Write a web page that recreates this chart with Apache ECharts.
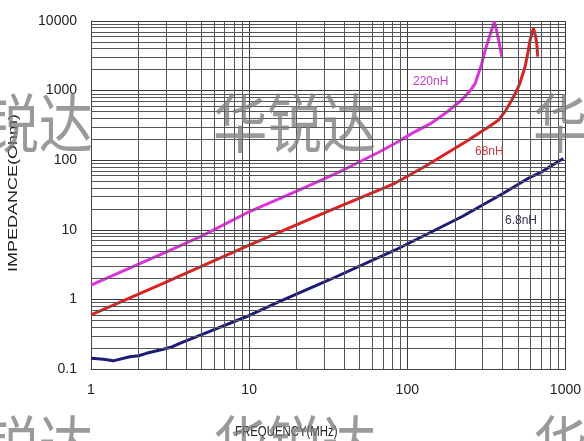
<!DOCTYPE html>
<html>
<head>
<meta charset="utf-8">
<script src="https://cdn.jsdelivr.net/npm/echarts@6/dist/echarts.min.js"></script>
<style>html,body{margin:0;padding:0;background:#fff;}#c{width:584px;height:441px;}</style>
</head>
<body>
<div id="c"></div>
<script>
// ---- data ----
var xTickLabels = [1, 10, 100, 1000];
var yTickLabels = [0.1, 1, 10, 100, 1000, 10000];

var freq220 = [1, 2, 2.86, 5, 9.57, 20, 32, 38.7, 50, 66, 84, 107, 140, 174, 221, 250, 269, 295, 311, 335, 355, 366, 378, 396];
var z220    = [1.61, 3.2, 4.6, 8.1, 17.3, 36, 58, 71, 95, 130, 175, 243, 335, 472, 733, 1000, 1273, 2400, 3830, 6500, 9800, 7500, 5330, 3070];

var freq68 = [1, 2.86, 10, 32, 60, 84, 130, 192, 240, 283, 330, 378, 420, 458, 490, 515, 556, 580, 598, 628, 648, 659, 668];
var z68    = [0.597, 1.70, 6.0, 18.7, 34, 47, 82, 140, 190, 243, 305, 378, 520, 733, 980, 1273, 2200, 3600, 5330, 7850, 6000, 4680, 3070];

var freq6_8 = [1, 1.2, 1.38, 1.76, 2.0, 2.24, 2.86, 3.2, 3.64, 5.9, 9.57, 15.5, 32, 84, 221, 400, 583, 650, 708, 800, 970];
var z6_8    = [0.143, 0.138, 0.131, 0.150, 0.155, 0.168, 0.192, 0.205, 0.234, 0.363, 0.563, 0.927, 1.9, 5.13, 15.4, 33, 55, 62, 68, 81, 106];

var seriesNames = ['220nH', '68nH', '6.8nH'];
var watermarkText = '华锐达';

// minor grid values (2..9 per decade)
function minorVals(lo, hi) {
  var out = [];
  for (var d = lo; d < hi; d *= 10) {
    for (var k = 2; k <= 9; k++) out.push(+(d * k).toPrecision(3));
  }
  return out;
}
var xMinor = minorVals(1, 1000);
var yMinor = minorVals(0.1, 10000);

function zip(a, b) { return a.map(function (v, i) { return [v, b[i]]; }); }

var FONT = '"Liberation Sans", Arial, sans-serif';
var chart = echarts.init(document.getElementById('c'), null, {renderer: 'canvas'});

var markData = [];
xMinor.forEach(function (v) { markData.push({xAxis: v}); });
yMinor.forEach(function (v) { markData.push({yAxis: v}); });

var wmStyle = {fontSize: 64, fontFamily: '"Noto Sans CJK SC", sans-serif', fill: 'rgba(125,125,125,0.78)'};
var wmX = [-70, 213, 533];
var wmY = [123, 445];
var graphics = [];
wmY.forEach(function (y) {
  wmX.forEach(function (x) {
    graphics.push({type: 'text', x: x, y: y, z: 100, scaleX: 0.85,
      style: Object.assign({text: watermarkText, verticalAlign: 'middle', align: 'left'}, wmStyle)});
  });
});

graphics.push({type: 'text', x: 235, y: 432, z: 50, scaleX: 0.76,
  style: {text: 'FREQUENCY(MHz)', fontSize: 15, fontFamily: FONT, fill: '#222', align: 'left', verticalAlign: 'middle'}});
graphics.push({type: 'text', x: 13, y: 193, z: 50, rotation: Math.PI / 2, scaleY: 0.76,
  style: {text: 'IMPEDANCE(Ohm)', fontSize: 18, fontFamily: FONT, fill: '#222', align: 'center', verticalAlign: 'middle'}});
graphics.push({type: 'text', x: 413, y: 82, z: 50,
  style: {text: seriesNames[0], fontSize: 12, fontFamily: FONT, fill: '#c83cc8', align: 'left', verticalAlign: 'middle'}});
graphics.push({type: 'text', x: 475, y: 152, z: 50,
  style: {text: seriesNames[1], fontSize: 12, fontFamily: FONT, fill: '#c83c3c', align: 'left', verticalAlign: 'middle'}});
graphics.push({type: 'text', x: 505, y: 221, z: 50,
  style: {text: seriesNames[2], fontSize: 12, fontFamily: FONT, fill: '#33335e', align: 'left', verticalAlign: 'middle'}});

var lineCommon = {type: 'line', showSymbol: false, z: 3, smooth: false};

chart.setOption({
  animation: false,
  backgroundColor: '#fff',
  grid: {left: 91, right: 17, top: 21, bottom: 72, containLabel: false},
  xAxis: {
    type: 'log', logBase: 10, min: 1, max: 1000, splitNumber: 3,
    axisLine: {show: true, lineStyle: {color: '#444', width: 1}},
    axisTick: {show: false},
    axisLabel: {color: '#222', fontSize: 14, fontFamily: FONT, margin: 14,
      formatter: function (v) { return xTickLabels.indexOf(+v) >= 0 ? String(v) : ''; }},
    splitLine: {show: true, lineStyle: {color: '#3a3a3a', width: 1}}
  },
  yAxis: {
    type: 'log', logBase: 10, min: 0.1, max: 10000, splitNumber: 5,
    axisLine: {show: true, lineStyle: {color: '#444', width: 1}},
    axisTick: {show: false},
    axisLabel: {color: '#222', fontSize: 14, fontFamily: FONT, margin: 14,
      formatter: function (v) {
        var m = yTickLabels.filter(function (t) { return Math.abs(t - v) / t < 1e-6; });
        return m.length ? String(m[0]) : '';
      }},
    splitLine: {show: true, lineStyle: {color: '#3a3a3a', width: 1}}
  },
  graphic: graphics,
  series: [
    {type: 'line', name: 'grid', data: [[1, 0.1]], showSymbol: false, silent: true, z: 1,
      lineStyle: {opacity: 0},
      markLine: {silent: true, symbol: ['none', 'none'], label: {show: false}, animation: false,
        lineStyle: {type: 'solid', color: '#555', width: 1}, emphasis: {disabled: true}, data: markData}},
    Object.assign({name: seriesNames[0], data: zip(freq220, z220),
      lineStyle: {color: '#dd33dd', width: 3}, itemStyle: {color: '#dd33dd'}}, lineCommon),
    Object.assign({name: seriesNames[1], data: zip(freq68, z68),
      lineStyle: {color: '#dd2222', width: 3}, itemStyle: {color: '#dd2222'}}, lineCommon),
    Object.assign({name: seriesNames[2], data: zip(freq6_8, z6_8),
      lineStyle: {color: '#1c1c78', width: 3}, itemStyle: {color: '#1c1c78'}}, lineCommon)
  ]
});
</script>
</body>
</html>
